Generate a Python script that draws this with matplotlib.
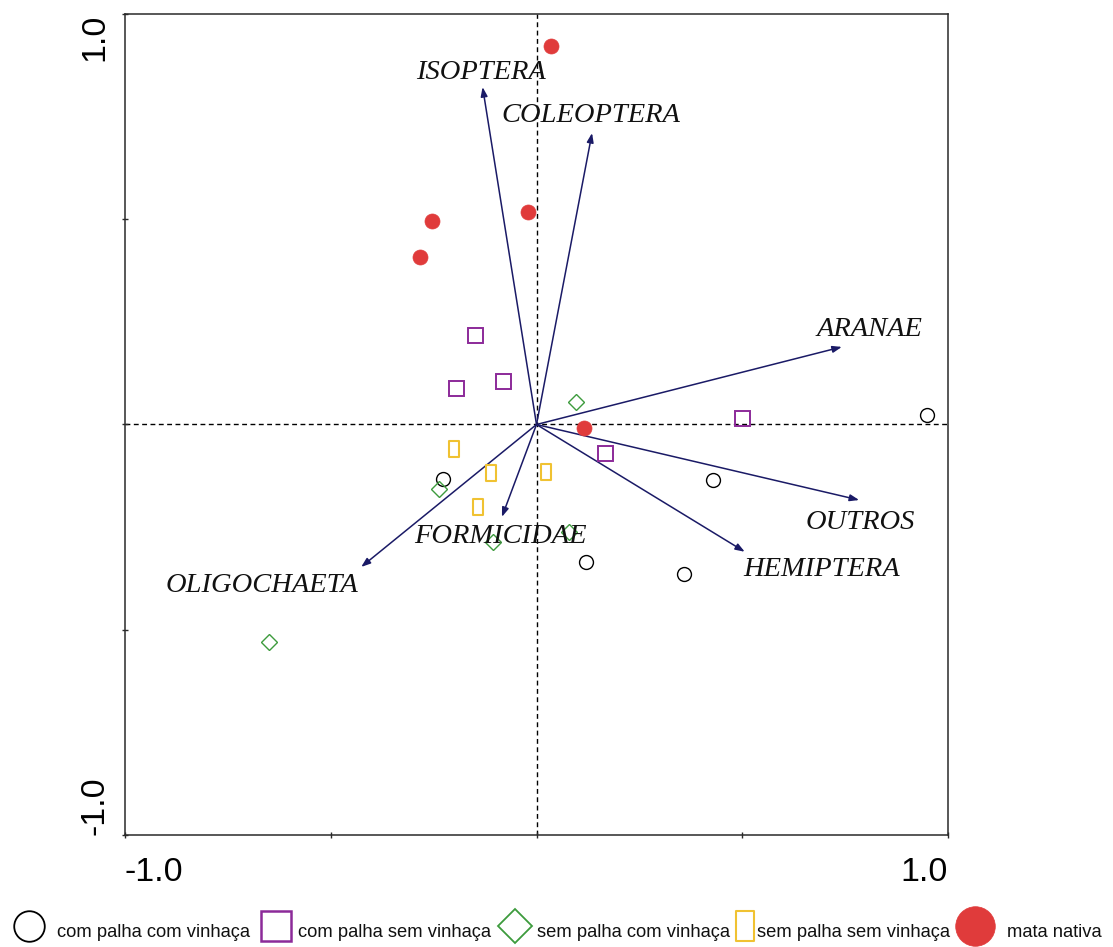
import matplotlib
matplotlib.use("Agg")
import matplotlib.pyplot as plt
from matplotlib.path import Path

# --- sample scores (axis 1, axis 2) per treatment ---
com_palha_com_vinhaca_x = [0.948, -0.228, 0.430, 0.120, 0.358]
com_palha_com_vinhaca_y = [0.023, -0.133, -0.135, -0.334, -0.364]

com_palha_sem_vinhaca_x = [-0.150, -0.196, -0.081, 0.500, 0.166]
com_palha_sem_vinhaca_y = [0.219, 0.088, 0.106, 0.015, -0.069]

sem_palha_com_vinhaca_x = [0.096, -0.236, -0.106, 0.080, -0.650]
sem_palha_com_vinhaca_y = [0.054, -0.158, -0.286, -0.261, -0.529]

sem_palha_sem_vinhaca_x = [-0.200, -0.111, 0.022, -0.143]
sem_palha_sem_vinhaca_y = [-0.060, -0.119, -0.115, -0.202]

mata_nativa_x = [0.035, -0.021, -0.253, -0.283, 0.116]
mata_nativa_y = [0.923, 0.517, 0.496, 0.407, -0.009]

# --- taxa loadings (arrows) ---
taxa = ["ISOPTERA", "COLEOPTERA", "ARANAE", "OUTROS",
        "HEMIPTERA", "FORMICIDAE", "OLIGOCHAETA"]
taxa_x = [-0.131, 0.135, 0.742, 0.784, 0.506, -0.084, -0.426]
taxa_y = [0.822, 0.710, 0.189, -0.184, -0.310, -0.225, -0.347]

legend_labels = ["com palha com vinhaça", "com palha sem vinhaça",
                 "sem palha com vinhaça", "sem palha sem vinhaça",
                 "mata nativa"]

tick_values = [-1.0, -0.5, 0.0, 0.5, 1.0]
tick_labels = ["-1.0", "", "", "", "1.0"]

# label offsets (points) relative to each arrow tip
label_offsets = {
    "ISOPTERA": (-1.4, 6.1),
    "COLEOPTERA": (-0.7, 7.9),
    "ARANAE": (20.2, 7.9),
    "OUTROS": (0.7, -20.9),
    "HEMIPTERA": (55.4, -17.3),
    "FORMICIDAE": (-1.4, -18.7),
    "OLIGOCHAETA": (-71.3, -18.0),
}

NAVY = "#1a1a66"
RED = "#e03b3b"
PURPLE = "#8c2a99"
GREEN = "#3d9b3d"
YELLOW = "#f0c232"

# tall narrow rectangle marker
tall_rect = Path([(-0.3, -0.5), (0.3, -0.5), (0.3, 0.5), (-0.3, 0.5), (-0.3, -0.5)],
                 [Path.MOVETO, Path.LINETO, Path.LINETO, Path.LINETO, Path.CLOSEPOLY])

W, H = 1113, 947
fig = plt.figure(figsize=(W / 100, H / 100), dpi=100)
ax = fig.add_axes([125 / W, 112 / H, 823 / W, 821 / H])
ax.set_xlim(-1, 1)
ax.set_ylim(-1, 1)

# zero reference lines
ax.axhline(0, color="black", lw=1.0, ls=(0, (3.5, 2.5)), zorder=1)
ax.axvline(0, color="black", lw=1.0, ls=(0, (3.5, 2.5)), zorder=1)

# arrows for taxa
for name, tx, ty in zip(taxa, taxa_x, taxa_y):
    ax.annotate("", xy=(tx, ty), xytext=(0, 0),
                arrowprops=dict(arrowstyle="-|>,head_length=0.55,head_width=0.2",
                                color=NAVY, lw=1.1, shrinkA=0, shrinkB=0),
                zorder=2)
    ax.annotate(name, xy=(tx, ty), xytext=label_offsets[name],
                textcoords="offset points", ha="center", va="baseline",
                fontsize=20.5, fontstyle="italic", family="Liberation Serif",
                color="#111111", zorder=4)

# sample points
ax.plot(com_palha_com_vinhaca_x, com_palha_com_vinhaca_y, ls="none", marker="o",
        ms=10, mfc="none", mec="black", mew=1.0, zorder=3)
ax.plot(com_palha_sem_vinhaca_x, com_palha_sem_vinhaca_y, ls="none", marker="s",
        ms=10.8, mfc="none", mec=PURPLE, mew=1.4, zorder=3)
ax.plot(sem_palha_com_vinhaca_x, sem_palha_com_vinhaca_y, ls="none", marker="D",
        ms=8, mfc="none", mec=GREEN, mew=1.0, zorder=3)
ax.plot(sem_palha_sem_vinhaca_x, sem_palha_sem_vinhaca_y, ls="none", marker=tall_rect,
        ms=11, mfc="none", mec=YELLOW, mew=1.5, zorder=3)
ax.plot(mata_nativa_x, mata_nativa_y, ls="none", marker="o",
        ms=10.8, mfc=RED, mec=RED, mew=0.5, zorder=3)

# frame and ticks
for sp in ax.spines.values():
    sp.set_linewidth(1.1)
    sp.set_color("#2a2a2a")
ax.set_xticks(tick_values)
ax.set_xticklabels(tick_labels)
ax.set_yticks(tick_values)
ax.set_yticklabels(tick_labels, rotation=90)
ax.tick_params(axis="both", direction="inout", length=5, width=1.0, color="#2a2a2a",
               labelsize=24.5)
ax.tick_params(axis="x", pad=13)
ax.tick_params(axis="y", pad=8)
for lab in ax.get_xticklabels() + ax.get_yticklabels():
    lab.set_family("Liberation Sans")
xl = ax.get_xticklabels()
xl[0].set_ha("left")
xl[-1].set_ha("right")
yl = ax.get_yticklabels()
yl[0].set_va("bottom")
yl[-1].set_va("top")

# legend row along the bottom, laid out in pixel units
lax = fig.add_axes([0, 0, 1, 1])
lax.set_xlim(0, W)
lax.set_ylim(H, 0)
lax.axis("off")

legend_marker_x = [29, 276, 515, 745, 975]
legend_text_x = [57, 298, 537, 757, 1007]
legend_styles = [
    dict(marker="o", ms=22, mfc="none", mec="black", mew=1.3),
    dict(marker="s", ms=22, mfc="none", mec=PURPLE, mew=1.8),
    dict(marker="D", ms=17.5, mfc="none", mec=GREEN, mew=1.3),
    dict(marker=tall_rect, ms=22, mfc="none", mec=YELLOW, mew=1.5),
    dict(marker="o", ms=28.5, mfc=RED, mec=RED, mew=0.5),
]
for mx, tx, lab, st in zip(legend_marker_x, legend_text_x, legend_labels, legend_styles):
    lax.plot([mx], [926], ls="none", **st)
    lax.text(tx, 937, lab, fontsize=13.2, family="Liberation Sans",
             ha="left", va="baseline", color="#111111")

fig.savefig("out.png", dpi=100)
